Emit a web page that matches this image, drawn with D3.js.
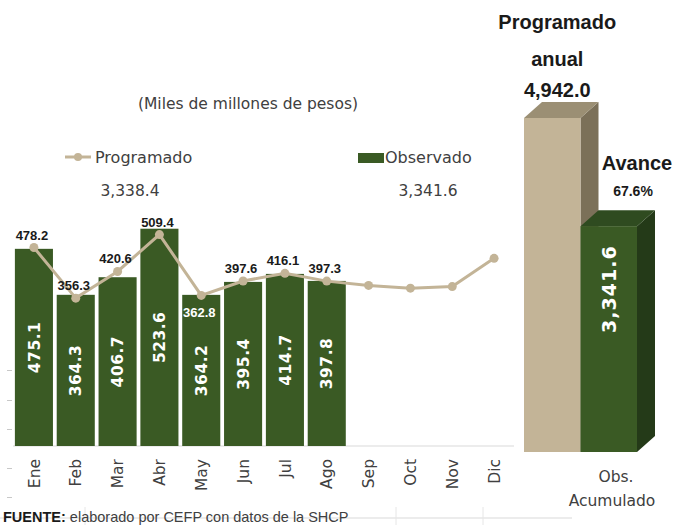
<!DOCTYPE html>
<html>
<head>
<meta charset="utf-8">
<script src="https://cdn.jsdelivr.net/npm/d3@7"></script>
<style>
  body { margin: 0; background: #fff; }
  svg { display: block; }
</style>
</head>
<body>
<div id="chart"></div>
<script>
"use strict";

// data
var months = ["Ene", "Feb", "Mar", "Abr", "May", "Jun", "Jul", "Ago", "Sep", "Oct", "Nov", "Dic"];
var observado = [475.1, 364.3, 406.7, 523.6, 364.2, 395.4, 414.7, 397.8];
var programado = [478.2, 356.3, 420.6, 509.4, 362.8, 397.6, 416.1, 397.3, 386.9, 380.4, 384.1, 452.2];
var acumCats = ["Programado anual", "Obs. Acumulado"];
var acumValues = [4942.0, 3341.6];
var progAcumulado = 3338.4;
var obsAcumulado = 3341.6;
var avance = 67.6;

var width = 676, height = 525;
var green = "#3a5a24", tan = "#c3b497";
var fmt1 = d3.format(".1f"), fmtC = d3.format(",.1f");

var svg = d3.select("#chart").append("svg")
  .attr("width", width).attr("height", height)
  .style("font-family", "'DejaVu Sans', sans-serif");

// == SCALES ==
var x = d3.scaleBand().domain(months).range([13, 515]).paddingInner(0.09).paddingOuter(0.045);
var y = d3.scaleLinear().domain([0, 600]).range([446, 197]);

// leftover tick marks on the left edge
var tickScale = d3.scaleLinear().domain([0, 525]).range([0, 525]);
svg.append("g").attr("transform", "translate(12,0)")
  .call(d3.axisLeft(tickScale).tickValues([370, 400, 429, 468, 497]).tickSize(5).tickFormat(""))
  .call(function(g) {
    g.select(".domain").remove();
    g.selectAll("line").attr("stroke", "#c8c8c8");
  });

// baseline
svg.append("line")
  .attr("x1", 13).attr("x2", 514).attr("y1", y(0)).attr("y2", y(0))
  .attr("stroke", "#d9d9d9");

// == BARS (Observado) ==
svg.selectAll("rect.obs")
  .data(observado)
  .enter().append("rect")
  .attr("class", "obs")
  .attr("x", function(d, i) { return x(months[i]); })
  .attr("width", x.bandwidth())
  .attr("y", function(d) { return y(d); })
  .attr("height", function(d) { return y(0) - y(d); })
  .attr("fill", green);

svg.selectAll("text.obs")
  .data(observado)
  .enter().append("text")
  .attr("class", "obs")
  .attr("transform", function(d, i) {
    var cx = x(months[i]) + x.bandwidth() / 2;
    var cy = (y(d) + y(0)) / 2;
    return "translate(" + cx + "," + cy + ") rotate(-90)";
  })
  .attr("text-anchor", "middle")
  .attr("dy", "0.36em")
  .style("font-size", "15.5px")
  .style("font-weight", "bold")
  .style("letter-spacing", "0.5px")
  .attr("fill", "#fff")
  .text(function(d) { return fmt1(d); });

// == LINE (Programado) ==
var line = d3.line()
  .x(function(d, i) { return x(months[i]) + x.bandwidth() / 2; })
  .y(function(d) { return y(d); });

svg.append("path")
  .datum(programado)
  .attr("d", line)
  .attr("fill", "none")
  .attr("stroke", tan)
  .attr("stroke-width", 3);

svg.selectAll("circle.prog")
  .data(programado)
  .enter().append("circle")
  .attr("class", "prog")
  .attr("cx", function(d, i) { return x(months[i]) + x.bandwidth() / 2; })
  .attr("cy", function(d) { return y(d); })
  .attr("r", 4.5)
  .attr("fill", tan);

// labels only for the months with data observed
svg.selectAll("text.prog")
  .data(programado.slice(0, observado.length))
  .enter().append("text")
  .attr("class", "prog")
  .attr("x", function(d, i) { return x(months[i]) + x.bandwidth() / 2 - 2; })
  .attr("y", function(d, i) { return months[i] == "May" ? y(d) + 22 : y(d) - 8; })
  .attr("text-anchor", "middle")
  .style("font-family", "'Liberation Sans', Arial, sans-serif")
  .style("font-size", "13px")
  .style("font-weight", "bold")
  .attr("fill", function(d, i) { return months[i] == "May" ? "#fff" : "#1a1a1a"; })
  .text(function(d) { return fmt1(d); });

// month labels
svg.selectAll("text.month")
  .data(months)
  .enter().append("text")
  .attr("class", "month")
  .attr("transform", function(d) {
    return "translate(" + (x(d) + x.bandwidth() / 2) + ",459) rotate(-90)";
  })
  .attr("text-anchor", "end")
  .attr("dy", "0.36em")
  .style("font-size", "15.5px")
  .attr("fill", "#404040")
  .text(function(d) { return d; });

// == TITLE AND LEGEND ==
svg.append("text")
  .attr("x", 248).attr("y", 109)
  .attr("text-anchor", "middle")
  .style("font-size", "15.5px")
  .attr("fill", "#404040")
  .text("(Miles de millones de pesos)");

var leg = svg.append("g");
leg.append("line").attr("x1", 65).attr("x2", 91).attr("y1", 157).attr("y2", 157)
  .attr("stroke", tan).attr("stroke-width", 3);
leg.append("circle").attr("cx", 78).attr("cy", 157).attr("r", 4).attr("fill", tan);
leg.append("text").attr("x", 95).attr("y", 163)
  .style("font-size", "16px").attr("fill", "#404040").text("Programado");
leg.append("text").attr("x", 130).attr("y", 196).attr("text-anchor", "middle")
  .style("font-size", "15.5px").attr("fill", "#404040").text(fmtC(progAcumulado));

leg.append("rect").attr("x", 358).attr("y", 153).attr("width", 26).attr("height", 10)
  .attr("fill", green);
leg.append("text").attr("x", 385).attr("y", 163)
  .style("font-size", "16px").attr("fill", "#404040").text("Observado");
leg.append("text").attr("x", 428).attr("y", 196).attr("text-anchor", "middle")
  .style("font-size", "15.5px").attr("fill", "#404040").text(fmtC(obsAcumulado));

// == 3D ACUMULADO BARS ==
var xa = d3.scaleBand().domain(acumCats).range([524, 637]).padding(0);
var ya = d3.scaleLinear().domain([0, 4942]).range([452, 118]);
var dx = 18, dy = 16;
var faces = [
  { front: tan, side: "#7b7059", top: "#9b8f74" },
  { front: green, side: "#243a18", top: "#2f4b20" }
];

var bars3d = svg.selectAll("g.acum")
  .data(acumValues)
  .enter().append("g")
  .attr("class", "acum");

bars3d.append("path")
  .attr("d", function(d, i) {
    var x0 = xa(acumCats[i]) + xa.bandwidth(), y0 = ya(d), y1 = ya(0);
    return "M" + x0 + "," + y0 + "L" + (x0 + dx) + "," + (y0 - dy) +
      "L" + (x0 + dx) + "," + (y1 - dy) + "L" + x0 + "," + y1 + "Z";
  })
  .attr("fill", function(d, i) { return faces[i].side; });

bars3d.append("path")
  .attr("d", function(d, i) {
    var x0 = xa(acumCats[i]), x1 = x0 + xa.bandwidth(), y0 = ya(d);
    return "M" + x0 + "," + y0 + "L" + (x0 + dx) + "," + (y0 - dy) +
      "L" + (x1 + dx) + "," + (y0 - dy) + "L" + x1 + "," + y0 + "Z";
  })
  .attr("fill", function(d, i) { return faces[i].top; });

bars3d.append("rect")
  .attr("x", function(d, i) { return xa(acumCats[i]); })
  .attr("width", xa.bandwidth())
  .attr("y", function(d) { return ya(d); })
  .attr("height", function(d) { return ya(0) - ya(d); })
  .attr("fill", function(d, i) { return faces[i].front; });

// value inside the observed bar
svg.append("text")
  .attr("transform", "translate(" + (xa(acumCats[1]) + xa.bandwidth() / 2) + "," +
    (ya(acumValues[1]) + 63) + ") rotate(-90)")
  .attr("text-anchor", "middle")
  .attr("dy", "0.36em")
  .style("font-size", "19px")
  .style("font-weight", "bold")
  .style("letter-spacing", "1px")
  .attr("fill", "#fff")
  .text(fmtC(acumValues[1]));

// annotations over the 3D bars
var progX = xa(acumCats[0]) + xa.bandwidth() / 2 + 5;
var annBold = { "font-family": "'Liberation Sans', Arial, sans-serif", "font-weight": "bold" };
function bold(sel, size) {
  return sel.style("font-family", annBold["font-family"]).style("font-weight", "bold")
    .style("font-size", size).attr("fill", "#1a1a1a").attr("text-anchor", "middle");
}
bold(svg.append("text").attr("x", progX).attr("y", ya(acumValues[0]) - 89), "20px").text("Programado");
bold(svg.append("text").attr("x", progX).attr("y", ya(acumValues[0]) - 52), "20px").text("anual");
bold(svg.append("text").attr("x", progX).attr("y", ya(acumValues[0]) - 21), "20px").text(fmtC(acumValues[0]));
bold(svg.append("text").attr("x", 637).attr("y", 170), "20px").text("Avance");
bold(svg.append("text").attr("x", 633).attr("y", 196), "14px").text(fmt1(avance) + "%");

svg.append("text").attr("x", 616).attr("y", 482).attr("text-anchor", "middle")
  .style("font-size", "15.5px").attr("fill", "#404040").text("Obs.");
svg.append("text").attr("x", 612).attr("y", 506).attr("text-anchor", "middle")
  .style("font-size", "15.5px").attr("fill", "#404040").text("Acumulado");

// == FOOTER ==
svg.append("line").attr("x1", 0).attr("x2", 572).attr("y1", 518).attr("y2", 518)
  .attr("stroke", "#d9d9d9");
[85, 396, 483].forEach(function(px) {
  svg.append("line").attr("x1", px).attr("x2", px).attr("y1", 507).attr("y2", 525)
    .attr("stroke", "#e6e6e6");
});
var foot = svg.append("text").attr("x", 3).attr("y", 522)
  .style("font-family", "'Liberation Sans', Arial, sans-serif")
  .style("font-size", "14.5px");
foot.append("tspan").style("font-weight", "bold").attr("fill", "#1a1a1a").text("FUENTE:");
foot.append("tspan").attr("fill", "#404040").text(" elaborado por CEFP con datos de la SHCP");
</script>
</body>
</html>
